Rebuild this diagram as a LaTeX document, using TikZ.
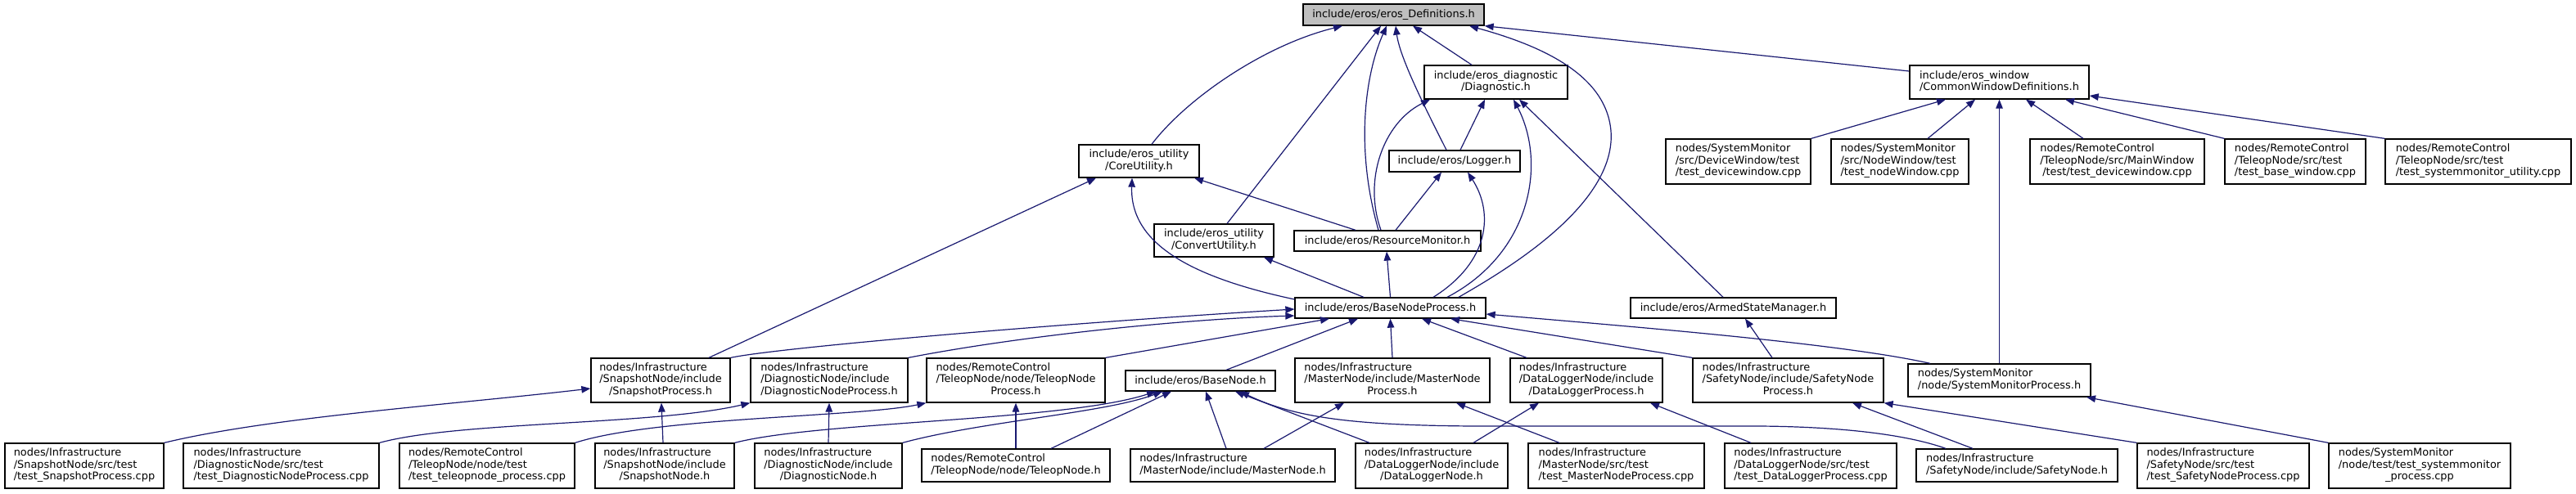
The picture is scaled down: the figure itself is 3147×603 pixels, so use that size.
\documentclass[tikz,border=0pt]{standalone}
\usepackage{fontspec}
\setmainfont{DejaVu Sans}
\usetikzlibrary{arrows.meta}
\definecolor{edgeblue}{HTML}{191970}
\definecolor{topgray}{HTML}{BFBFBF}
\newcommand\twoL[2]{\begin{tabular}{@{}l@{}}#1\\\multicolumn{1}{@{}c@{}}{#2}\end{tabular}}
\newcommand\threeL[3]{\begin{tabular}{@{}l@{}}#1\\#2\\\multicolumn{1}{@{}c@{}}{#3}\end{tabular}}
\newcommand\bx[7][]{\node[bx,#1,minimum width={#5pt-#3pt},minimum height={#6pt-#4pt}] (#2) at ({(#3+#5)/2},{(#4+#6)/2}) {#7};}
\begin{document}
\begin{tikzpicture}[x=1pt,y=-1pt,
  bx/.style={draw=black,fill=white,line width=1.3pt,inner sep=0pt,align=center,
    font=\fontsize{12.9}{14.5}\selectfont},
  edge/.style={draw=edgeblue,line width=1.2pt,-{Triangle[length=11pt,width=8.5pt]}}]
\fill[white] (0,0) rectangle (3147,603);
\useasboundingbox (0,0) rectangle (3147,603);
% nodes
\bx[fill=topgray]{defs}{1592}{5}{1813}{31}{include/eros/eros\_Definitions.h}
\bx{diag}{1740}{80}{1915}{121}{\twoL{include/eros\_diagnostic}{/Diagnostic.h}}
\bx{cwd}{2333}{80}{2552}{121}{\twoL{include/eros\_window}{/CommonWindowDefinitions.h}}
\bx{core}{1318}{177}{1465}{217}{\twoL{include/eros\_utility}{/CoreUtility.h}}
\bx{logger}{1697}{184}{1857}{210}{include/eros/Logger.h}
\bx{smdev}{2035}{170}{2212}{225}{\threeL{nodes/SystemMonitor}{/src/DeviceWindow/test}{/test\_devicewindow.cpp}}
\bx{smnode}{2237}{170}{2405}{225}{\threeL{nodes/SystemMonitor}{/src/NodeWindow/test}{/test\_nodeWindow.cpp}}
\bx{rcmain}{2480}{170}{2693}{225}{\threeL{nodes/RemoteControl}{/TeleopNode/src/MainWindow}{/test/test\_devicewindow.cpp}}
\bx{rcbase}{2718}{170}{2890}{225}{\threeL{nodes/RemoteControl}{/TeleopNode/src/test}{/test\_base\_window.cpp}}
\bx{rcsys}{2914}{170}{3141}{225}{\threeL{nodes/RemoteControl}{/TeleopNode/src/test}{/test\_systemmonitor\_utility.cpp}}
\bx{conv}{1410}{274}{1556}{314}{\twoL{include/eros\_utility}{/ConvertUtility.h}}
\bx{resmon}{1581}{282}{1809}{307}{include/eros/ResourceMonitor.h}
\bx{bnp}{1582}{364}{1815}{389}{include/eros/BaseNodeProcess.h}
\bx{asm}{1992}{364}{2243}{389}{include/eros/ArmedStateManager.h}
\bx{snapproc}{722}{438}{892}{492}{\threeL{nodes/Infrastructure}{/SnapshotNode/include}{/SnapshotProcess.h}}
\bx{diagproc}{917}{438}{1109}{492}{\threeL{nodes/Infrastructure}{/DiagnosticNode/include}{/DiagnosticNodeProcess.h}}
\bx{teleproc}{1132}{438}{1350}{492}{\threeL{nodes/RemoteControl}{/TeleopNode/node/TeleopNode}{Process.h}}
\bx{basenode}{1375}{453}{1558}{478}{include/eros/BaseNode.h}
\bx{masterproc}{1582}{438}{1820}{492}{\threeL{nodes/Infrastructure}{/MasterNode/include/MasterNode}{Process.h}}
\bx{dlproc}{1845}{438}{2031}{492}{\threeL{nodes/Infrastructure}{/DataLoggerNode/include}{/DataLoggerProcess.h}}
\bx{safeproc}{2068}{438}{2301}{492}{\threeL{nodes/Infrastructure}{/SafetyNode/include/SafetyNode}{Process.h}}
\bx{smproc}{2331}{445}{2554}{485}{\twoL{nodes/SystemMonitor}{/node/SystemMonitorProcess.h}}
\bx{tsnap}{6}{542}{200}{597}{\threeL{nodes/Infrastructure}{/SnapshotNode/src/test}{/test\_SnapshotProcess.cpp}}
\bx{tdiag}{224}{542}{463}{597}{\threeL{nodes/Infrastructure}{/DiagnosticNode/src/test}{/test\_DiagnosticNodeProcess.cpp}}
\bx{ttele}{488}{542}{702}{597}{\threeL{nodes/RemoteControl}{/TeleopNode/node/test}{/test\_teleopnode\_process.cpp}}
\bx{snapnode}{727}{542}{897}{597}{\threeL{nodes/Infrastructure}{/SnapshotNode/include}{/SnapshotNode.h}}
\bx{diagnode}{922}{542}{1102}{597}{\threeL{nodes/Infrastructure}{/DiagnosticNode/include}{/DiagnosticNode.h}}
\bx{telenode}{1126}{549}{1356}{589}{\twoL{nodes/RemoteControl}{/TeleopNode/node/TeleopNode.h}}
\bx{masternode}{1381}{549}{1631}{589}{\twoL{nodes/Infrastructure}{/MasterNode/include/MasterNode.h}}
\bx{dlnode}{1656}{542}{1842}{597}{\threeL{nodes/Infrastructure}{/DataLoggerNode/include}{/DataLoggerNode.h}}
\bx{tmaster}{1867}{542}{2082}{597}{\threeL{nodes/Infrastructure}{/MasterNode/src/test}{/test\_MasterNodeProcess.cpp}}
\bx{tdl}{2107}{542}{2317}{597}{\threeL{nodes/Infrastructure}{/DataLoggerNode/src/test}{/test\_DataLoggerProcess.cpp}}
\bx{safenode}{2341}{549}{2587}{589}{\twoL{nodes/Infrastructure}{/SafetyNode/include/SafetyNode.h}}
\bx{tsafe}{2611}{542}{2821}{597}{\threeL{nodes/Infrastructure}{/SafetyNode/src/test}{/test\_SafetyNodeProcess.cpp}}
\bx{tsm}{2845}{542}{3067}{597}{\threeL{nodes/SystemMonitor}{/node/test/test\_systemmonitor}{\_process.cpp}}
% edges into defs
\draw[edge] ([xshift=15.5pt]core.north) .. controls (1450,120) and (1545,55) .. ([xshift=-62.5pt]defs.south);
\draw[edge] ([xshift=16pt]conv.north) -- ([xshift=-15.5pt]defs.south);
\draw[edge] ([xshift=-11pt]resmon.north) .. controls (1655,180) and (1668,90) .. ([xshift=-8.5pt]defs.south);
\draw[edge] ([xshift=-10pt]logger.north) .. controls (1740,130) and (1710,70) .. ([xshift=2.5pt]defs.south);
\draw[edge] ([xshift=-29.5pt]diag.north) -- ([xshift=23.5pt]defs.south);
\draw[edge] ([xshift=83.5pt]bnp.north) .. controls (1840,330) and (1975,250) .. (1968,160) .. controls (1962,90) and (1880,55) .. ([xshift=92.5pt]defs.south);
\draw[edge] ([yshift=13.5pt]cwd.west) -- (defs.south east);
% into diag
\draw[edge] ([xshift=-8pt]resmon.north) .. controls (1665,220) and (1690,150) .. ([xshift=-80.5pt]diag.south);
\draw[edge] ([xshift=7pt]logger.north) -- ([xshift=-13.5pt]diag.south);
\draw[edge] ([xshift=69.5pt]bnp.north) .. controls (1870,310) and (1890,200) .. ([xshift=21.5pt]diag.south);
\draw[edge] ([xshift=-12.5pt]asm.north) -- ([xshift=28.5pt]diag.south);
% into core
\draw[edge] ([xshift=59pt]snapproc.north) -- ([xshift=-52.5pt]core.south);
\draw[edge] ([yshift=10.5pt]bnp.west) .. controls (1460,340) and (1380,300) .. ([xshift=-8.5pt]core.south);
\draw[edge] ([xshift=-39pt]resmon.north) -- ([xshift=67.5pt]core.south);
% into logger
\draw[edge] ([xshift=10pt]resmon.north) -- ([xshift=-16pt]logger.south);
\draw[edge] ([xshift=52.5pt]bnp.north) .. controls (1820,320) and (1825,260) .. ([xshift=16pt]logger.south);
% into conv, resmon
\draw[edge] ([xshift=-32.5pt]bnp.north) -- ([xshift=61pt]conv.south);
\draw[edge] (bnp.north) -- ([xshift=-1pt]resmon.south);
% into cwd
\draw[edge] (smdev.north east) -- ([xshift=-65.5pt]cwd.south);
\draw[edge] ([xshift=34pt]smnode.north) -- ([xshift=-29.5pt]cwd.south);
\draw[edge] ([xshift=-41.5pt]rcmain.north) -- ([xshift=32.5pt]cwd.south);
\draw[edge] (rcbase.north west) -- ([xshift=80.5pt]cwd.south);
\draw[edge] (rcsys.north west) -- ([yshift=-16.5pt]cwd.east);
\draw[edge] (smproc.north) -- (cwd.south);
% into bnp
\draw[edge] (snapproc.north east) .. controls (950,425) and (1300,395) .. ([yshift=-1.5pt]bnp.west);
\draw[edge] (diagproc.north east) .. controls (1250,410) and (1450,390) .. ([yshift=-9.5pt]bnp.west);
\draw[edge] (teleproc.north east) -- ([xshift=-74.5pt]bnp.south);
\draw[edge] ([xshift=31.5pt]basenode.north) -- ([xshift=-39.5pt]bnp.south);
\draw[edge] (masterproc.north) -- (bnp.south);
\draw[edge] ([xshift=-73pt]dlproc.north) -- ([xshift=38.5pt]bnp.south);
\draw[edge] (safeproc.north west) -- ([xshift=73.5pt]bnp.south);
\draw[edge] ([xshift=-84.5pt]smproc.north) .. controls (2250,420) and (2000,400) .. ([yshift=-7.5pt]bnp.east);
\draw[edge] ([xshift=-19.5pt]safeproc.north) -- ([xshift=14.5pt]asm.south);
% lower levels
\draw[edge] (tsnap.north east) .. controls (330,510) and (550,495) .. ([yshift=-10pt]snapproc.west);
\draw[edge] ([xshift=-2pt]snapnode.north) -- ([xshift=1pt]snapproc.south);
\draw[edge] (tdiag.north east) .. controls (560,515) and (800,520) .. (diagproc.south west);
\draw[edge] (diagnode.north) -- (diagproc.south);
\draw[edge] (ttele.north east) .. controls (800,510) and (1050,510) .. (teleproc.south west);
\draw[edge] (telenode.north) -- (teleproc.south);
\draw[edge] (snapnode.north east) .. controls (1000,515) and (1300,515) .. ([xshift=-54.5pt]basenode.south);
\draw[edge] (diagnode.north east) .. controls (1200,515) and (1350,505) .. ([xshift=-46.5pt]basenode.south);
\draw[edge] ([xshift=43pt]telenode.north) -- ([xshift=-35.5pt]basenode.south);
\draw[edge] ([xshift=-8pt]masternode.north) -- ([xshift=6.5pt]basenode.south);
\draw[edge] ([xshift=-76pt]dlnode.north) -- ([xshift=42.5pt]basenode.south);
\draw[edge] ([xshift=-87pt]safenode.north) .. controls (2340,535) and (2270,522) .. (2150,521) -- (1800,521) .. controls (1650,520) and (1580,510) .. ([xshift=48.5pt]basenode.south);
\draw[edge] ([xshift=38pt]masternode.north) -- ([xshift=-59pt]masterproc.south);
\draw[edge] ([xshift=-69.5pt]tmaster.north) -- ([xshift=78pt]masterproc.south);
\draw[edge] ([xshift=51pt]dlnode.north) -- ([xshift=-58pt]dlproc.south);
\draw[edge] ([xshift=-73pt]tdl.north) -- ([xshift=78pt]dlproc.south);
\draw[edge] ([xshift=-54pt]safenode.north) -- ([xshift=78.5pt]safeproc.south);
\draw[edge] (tsafe.north west) -- (safeproc.south east);
\draw[edge] (tsm.north west) -- ([xshift=106.5pt]smproc.south);
\end{tikzpicture}
\end{document}
